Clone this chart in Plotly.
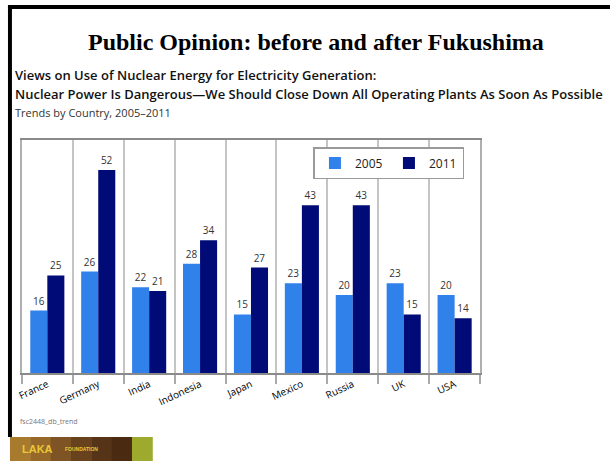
import plotly.graph_objects as go

countries = ["France", "Germany", "India", "Indonesia", "Japan", "Mexico", "Russia", "UK", "USA"]
values_2005 = [16, 26, 22, 28, 15, 23, 20, 23, 20]
values_2011 = [25, 52, 21, 34, 27, 43, 43, 15, 14]
series_names = ["2005", "2011"]
series_colors = ["#3181EA", "#000B78"]

W, H = 610, 461


def px_x(x):
    return x / W


def px_y(y):
    return 1 - y / H


fig = go.Figure()
for name, vals, col in zip(series_names, [values_2005, values_2011], series_colors):
    fig.add_trace(go.Bar(
        x=countries, y=vals, name=name,
        marker=dict(color=col, line=dict(width=0)),
        text=[str(v) for v in vals], textposition="outside",
        textfont=dict(family="Open Sans", size=10, color="#333333"),
        cliponaxis=False,
    ))

fig.update_layout(
    width=W, height=H,
    margin=dict(l=0, r=0, t=0, b=0),
    paper_bgcolor="white", plot_bgcolor="white",
    barmode="group", bargap=0.33, bargroupgap=0,
    showlegend=True,
    legend=dict(
        orientation="h", x=px_x(311), xanchor="left", y=px_y(147), yanchor="top",
        bgcolor="white", bordercolor="#9A9A9A", borderwidth=1.5,
        font=dict(family="Open Sans", size=12, color="#222222"),
        entrywidth=29, itemwidth=30,
    ),
    xaxis=dict(
        domain=[px_x(17), px_x(479)],
        tickson="boundaries", ticks="outside", ticklen=9, tickcolor="#AAAAAA", tickwidth=1.5,
        showgrid=True, gridcolor="#C4C4C4", gridwidth=1.5,
        showline=True, linecolor="#8A8A8A", linewidth=1.5, mirror=True,
        tickangle=-25,
        tickfont=dict(family="Open Sans", size=10, color="#000000"),
    ),
    yaxis=dict(
        domain=[px_y(373), px_y(140)],
        range=[0, 59.7],
        showticklabels=False, ticks="", showgrid=False, zeroline=False,
        showline=True, linecolor="#B0B0B0", linewidth=1.5, mirror=True,
    ),
)

# slide frame: black rule on top and left
fig.add_shape(type="rect", xref="paper", yref="paper",
              x0=px_x(3), x1=1, y0=px_y(9), y1=px_y(5),
              fillcolor="black", line=dict(width=0))
fig.add_shape(type="rect", xref="paper", yref="paper",
              x0=px_x(3), x1=px_x(7), y0=px_y(437), y1=px_y(5),
              fillcolor="black", line=dict(width=0))

# title and subtitles
fig.add_annotation(text="<b>Public Opinion: before and after Fukushima</b>",
                   xref="paper", yref="paper", x=px_x(314), y=px_y(42),
                   xanchor="center", yanchor="middle", showarrow=False,
                   font=dict(family="Liberation Serif", size=24, color="black"))
fig.add_annotation(text="Views on Use of Nuclear Energy for Electricity Generation:",
                   xref="paper", yref="paper", x=px_x(8), y=px_y(75),
                   xanchor="left", yanchor="middle", showarrow=False,
                   font=dict(family="Open Sans", size=13, color="#111111", weight=600))
fig.add_annotation(text="Nuclear Power Is Dangerous—We Should Close Down All Operating Plants As Soon As Possible",
                   xref="paper", yref="paper", x=px_x(8), y=px_y(94),
                   xanchor="left", yanchor="middle", showarrow=False,
                   font=dict(family="Open Sans", size=13, color="#111111", weight=600))
fig.add_annotation(text="Trends by Country, 2005–2011",
                   xref="paper", yref="paper", x=px_x(8), y=px_y(113),
                   xanchor="left", yanchor="middle", showarrow=False,
                   font=dict(family="Open Sans", size=11, color="#333333"))

# source code note
fig.add_annotation(text="fsc2448_db_trend",
                   xref="paper", yref="paper", x=px_x(13), y=px_y(421),
                   xanchor="left", yanchor="middle", showarrow=False,
                   font=dict(family="Open Sans", size=7, color="#777777"))

# foundation banner in the corner
banner_cols = ["#A77A2E", "#96682A", "#7E5424", "#68421D", "#563417", "#4A2B12"]
x_start, x_end = 5, 128
step = (x_end - x_start) / len(banner_cols)
for i, c in enumerate(banner_cols):
    fig.add_shape(type="rect", xref="paper", yref="paper",
                  x0=px_x(x_start + i * step), x1=px_x(x_start + (i + 1) * step + 0.5),
                  y0=0, y1=px_y(437), fillcolor=c, line=dict(width=0), layer="above")
fig.add_shape(type="rect", xref="paper", yref="paper",
              x0=px_x(128), x1=px_x(149), y0=0, y1=px_y(437),
              fillcolor="#9DAA2E", line=dict(width=0), layer="above")
fig.add_annotation(text="<b>LAKA</b>", xref="paper", yref="paper",
                   x=px_x(15), y=px_y(449), xanchor="left", yanchor="middle",
                   showarrow=False, font=dict(family="Liberation Sans", size=11, color="#E8C838"))
fig.add_annotation(text="<b>FOUNDATION</b>", xref="paper", yref="paper",
                   x=px_x(58), y=px_y(449), xanchor="left", yanchor="middle",
                   showarrow=False, font=dict(family="Liberation Sans", size=5, color="#E8C838"))

fig.write_html("out.html")
